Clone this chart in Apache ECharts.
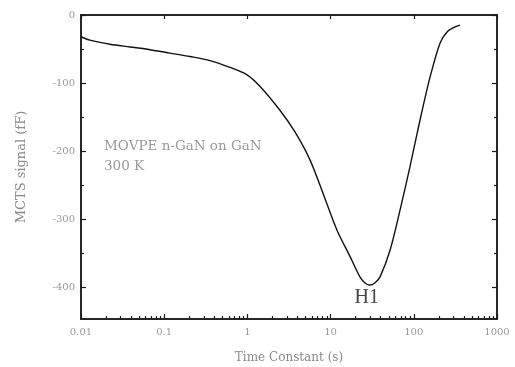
<!DOCTYPE html>
<html>
<head>
<meta charset="utf-8">
<script src="https://cdn.jsdelivr.net/npm/echarts@6/dist/echarts.min.js"></script>
<style>html,body{margin:0;padding:0;background:#fff}#c{width:515px;height:367px}</style>
</head>
<body>
<div id="c"></div>
<script>
const times = [0.01, 0.0128, 0.0223, 0.0388, 0.0675, 0.1175, 0.204, 0.355, 0.618, 0.989, 1.42, 2.46, 3.73, 5.65, 8.1, 11.9, 17.1, 22.5, 26, 29.5, 34, 39.3, 51.8, 68.3, 90, 119, 157, 207, 251, 296, 359];
const signal = [-32, -37, -43, -47, -51, -56, -61, -67, -77, -88, -105, -140, -172, -213, -262, -316, -355, -385, -394, -397, -394, -385, -346, -287, -223, -154, -91, -41, -25, -19, -15];
const xMajorTicks = [0.01, 0.1, 1, 10, 100, 1000];
const xMinorTicks = [];
[0.01, 0.1, 1, 10, 100].forEach(d => { for (let k = 2; k <= 9; k++) xMinorTicks.push(+(d * k).toPrecision(3)); });
const yMajorTicks = [0, -100, -200, -300, -400];
const yMinorTicks = [-50, -150, -250, -350];
const annotationLines = ['MOVPE n-GaN on GaN', '300 K'];
const peakLabel = 'H1';

const serif = '"DejaVu Serif", "Liberation Serif", serif';
const times_ = '"Liberation Serif", serif';
const axisLine = {show: true, onZero: false, lineStyle: {color: '#1a1a1a', width: 1.5}};
function xAxis(grid, pos, ticks, len, labels) {
  return {
    type: 'log', logBase: 10, min: 0.01, max: 1000, position: pos, gridIndex: grid,
    axisLine: axisLine,
    axisTick: ticks ? {show: true, inside: true, length: len, customValues: ticks, lineStyle: {color: '#1a1a1a', width: 1.2}} : {show: false},
    axisLabel: labels ? {show: true, customValues: xMajorTicks, color: '#999', fontFamily: serif, fontSize: 10, margin: 8,
      formatter: v => String(v)} : {show: false},
    splitLine: {show: false}, minorTick: {show: false}
  };
}
function yAxis(grid, pos, ticks, len, labels) {
  return {
    type: 'value', min: -447, max: 0, position: pos, gridIndex: grid,
    axisLine: axisLine,
    axisTick: ticks ? {show: true, inside: true, length: len, customValues: ticks, lineStyle: {color: '#1a1a1a', width: 1.2}} : {show: false},
    axisLabel: labels ? {show: true, customValues: yMajorTicks, color: '#999', fontFamily: serif, fontSize: 10, margin: 6} : {show: false},
    splitLine: {show: false}
  };
}
const xs = [xAxis(0, 'bottom', xMajorTicks, 5, true), xAxis(0, 'top', xMajorTicks, 4, false),
            xAxis(1, 'bottom', xMinorTicks, 3, false), xAxis(1, 'top', null, 0, false)];
xs[0].name = 'Time Constant (s)';
xs[0].nameLocation = 'middle';
xs[0].nameGap = 33;
xs[0].nameTextStyle = {color: '#8a8a8a', fontFamily: serif, fontSize: 12};
const ys = [yAxis(0, 'left', yMajorTicks, 5, true), yAxis(0, 'right', yMajorTicks, 5, false),
            yAxis(1, 'left', yMinorTicks, 3, false), yAxis(1, 'right', yMinorTicks, 3, false)];
ys[0].name = 'MCTS signal (fF)';
ys[0].nameLocation = 'middle';
ys[0].nameGap = 53;
ys[0].nameTextStyle = {color: '#8a8a8a', fontFamily: serif, fontSize: 13};

const chart = echarts.init(document.getElementById('c'));
const gridRect = {left: 81, right: 18, top: 15, bottom: 48, containLabel: false, outerBoundsMode: 'none'};
chart.setOption({
  animation: false,
  backgroundColor: '#fff',
  grid: [Object.assign({}, gridRect), Object.assign({}, gridRect)],
  xAxis: xs,
  yAxis: ys,
  graphic: [{
    type: 'text', left: 104, top: 136,
    style: {text: annotationLines.join('\n'), fill: '#999', font: '13.5px ' + serif, lineHeight: 20}
  }],
  series: [{
    type: 'line', xAxisIndex: 0, yAxisIndex: 0,
    data: times.map((t, i) => [t, signal[i]]),
    showSymbol: false, smooth: 0.3,
    lineStyle: {color: '#111', width: 1.4},
    markPoint: {
      symbol: 'circle', symbolSize: 0,
      data: [{coord: [times[19], signal[19]]}],
      label: {show: true, formatter: peakLabel, position: 'bottom', distance: 3, offset: [-3, 0],
        color: '#444', fontFamily: times_, fontSize: 20}
    }
  }]
});
</script>
</body>
</html>
